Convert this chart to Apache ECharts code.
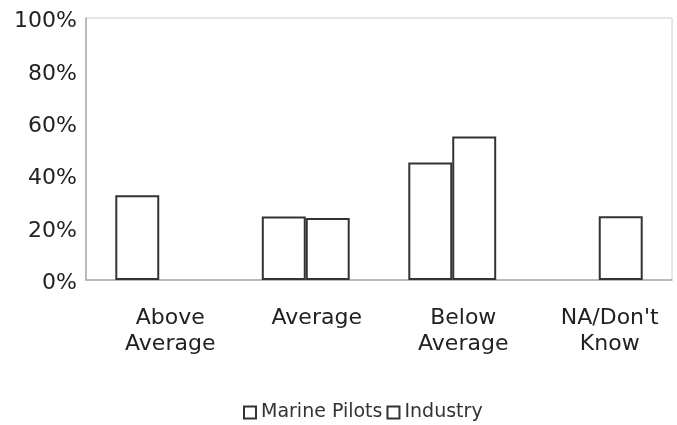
<!DOCTYPE html>
<html>
<head>
<meta charset="utf-8">
<script src="https://cdn.jsdelivr.net/npm/echarts@6/dist/echarts.min.js"></script>
<style>
html,body{margin:0;padding:0;background:#fff;}
#chart{width:677px;height:425px;}
</style>
</head>
<body>
<div id="chart"></div>
<script>
const categories = ['Above\nAverage', 'Average', 'Below\nAverage', "NA/Don't\nKnow"];
const marinePilots = [32.3, 24.2, 44.8, null];
const industry = [null, 23.7, 54.8, 24.3];
const yTicks = [0, 20, 40, 60, 80, 100];

const chart = echarts.init(document.getElementById('chart'), null, {renderer: 'canvas'});
const font = 'DejaVu Sans';
const barStyle = {color: '#ffffff', borderColor: '#333333', borderWidth: 2};
chart.setOption({
  animation: false,
  backgroundColor: '#ffffff',
  textStyle: {fontFamily: font},
  grid: {left: 86, right: 5, top: 18, bottom: 145, show: true, borderColor: '#cccccc', borderWidth: 1},
  legend: {
    left: 238, top: 398,
    icon: 'rect', itemWidth: 12, itemHeight: 12, itemGap: 4,
    textStyle: {fontFamily: font, fontSize: 19, color: '#333'},
    data: ['Marine Pilots', 'Industry']
  },
  xAxis: {
    type: 'category',
    data: categories,
    axisLine: {lineStyle: {color: '#aaaaaa', width: 1.5}},
    axisTick: {show: false},
    axisLabel: {
      interval: 0, margin: 25, fontSize: 22, lineHeight: 26, color: '#222',
      fontFamily: font, align: 'center', padding: [0, 0, 0, 22]
    }
  },
  yAxis: {
    type: 'value', min: yTicks[0], max: yTicks[yTicks.length - 1], interval: 20,
    axisLine: {show: true, lineStyle: {color: '#aaaaaa', width: 1.5}},
    axisTick: {show: false},
    splitLine: {show: false},
    axisLabel: {
      formatter: function (v) { return '{a|' + v + '%}'; },
      margin: 9,
      rich: {a: {fontSize: 22, color: '#222', fontFamily: font, padding: [7, 0, 0, 0]}}
    }
  },
  series: [
    {name: 'Marine Pilots', type: 'bar', data: marinePilots, barGap: '0%', barCategoryGap: '40%', itemStyle: barStyle},
    {name: 'Industry', type: 'bar', data: industry, barGap: '0%', barCategoryGap: '40%', itemStyle: barStyle}
  ]
});
</script>
</body>
</html>
